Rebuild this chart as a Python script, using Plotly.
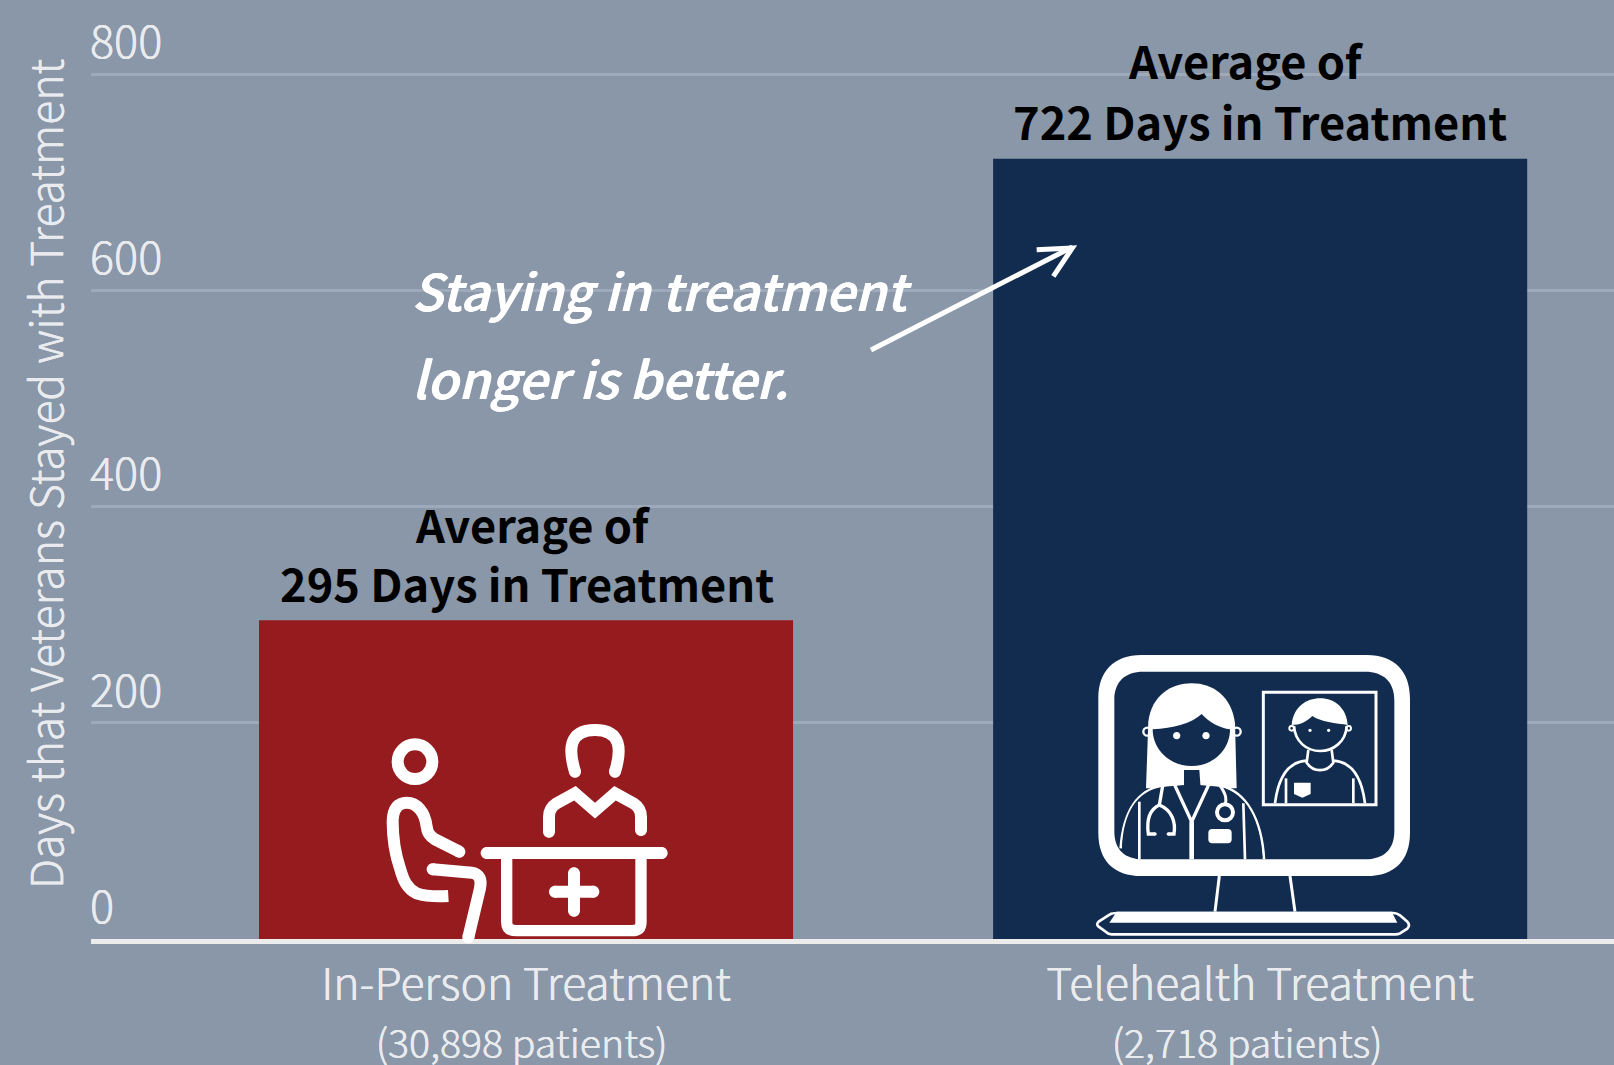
import re
import plotly.graph_objects as go

categories = ["In-Person Treatment", "Telehealth Treatment"]
patients = ["(30,898 patients)", "(2,718 patients)"]
patient_pad = ["&nbsp;", "&nbsp;&nbsp;&nbsp;"]
days = [295, 722]
bar_colors = ["#961b1e", "#122c4f"]
y_ticks = [0, 200, 400, 600, 800]
y_title = "Days that Veterans Stayed with Treatment"

W, H = 1614, 1065
L = 91
MB = 126
PW, PH = W - L, H - MB
FONT = "Noto Sans CJK SC, Source Sans Pro, Noto Sans, sans-serif"
LIGHT = "#e9ebee"
WHITE = "#ffffff"
NAVY = "#122c4f"
THIN_BOLD = "0.5px 0 0 #ffffff, -0.5px 0 0 #ffffff"
THIN_AXIS = "0.25px 0 0 #e9ebee, -0.25px 0 0 #e9ebee"

shapes = []


def conv(d, ox, oy):
    """zoomed-crop coordinates (3x) -> paper coordinates"""
    out, i = [], 0
    for tok in re.findall(r"[MLCQZ]|-?\d+\.?\d*", d):
        if tok.isalpha():
            out.append(tok)
        else:
            v = float(tok)
            if i % 2 == 0:
                out.append(f"{(ox + v / 3 - L) / PW:.5f}")
            else:
                out.append(f"{1 - (oy + v / 3) / PH:.5f}")
            i += 1
    return " ".join(out)


def circ(cx, cy, r):
    k = 0.5523 * r
    return (f"M{cx-r},{cy} C{cx-r},{cy-k} {cx-k},{cy-r} {cx},{cy-r} "
            f"C{cx+k},{cy-r} {cx+r},{cy-k} {cx+r},{cy} "
            f"C{cx+r},{cy+k} {cx+k},{cy+r} {cx},{cy+r} "
            f"C{cx-k},{cy+r} {cx-r},{cy+k} {cx-r},{cy} Z")


def fill(d, ox, oy, color=WHITE):
    shapes.append(dict(type="path", xref="paper", yref="paper", layer="above",
                       path=conv(d, ox, oy), fillcolor=color, line=dict(width=0)))


def stroke(d, ox, oy, w, color=WHITE, caps=True, fc=None):
    shapes.append(dict(type="path", xref="paper", yref="paper", layer="above",
                       path=conv(d, ox, oy), fillcolor=fc or "rgba(0,0,0,0)",
                       line=dict(color=color, width=w / 3)))
    if caps and "Z" not in d:
        nums = re.findall(r"-?\d+\.?\d*", d)
        for cx, cy in ((nums[0], nums[1]), (nums[-2], nums[-1])):
            fill(circ(float(cx), float(cy), w / 2), ox, oy, color)


# ---------- in-person icon ----------
o = (240, 680)
stroke(circ(525, 245, 52), *o, 36)
stroke("M625,648 C590,650 560,650 530,640 C500,625 490,600 480,565 C465,520 458,470 458,425 "
       "C458,385 475,368 500,368 C530,368 555,395 560,440 C562,460 570,470 585,478 L658,515", *o, 36, caps=False)
fill(circ(658, 515, 18), *o)
stroke("M578,568 L695,578 C720,582 725,600 720,625 L685,772", *o, 36)
stroke("M1005,275 C985,210 985,150 1065,150 C1145,150 1145,210 1125,275", *o, 36)
stroke("M927,455 L927,410 C927,390 935,380 950,370 L1005,340 L1065,392 L1125,340 L1180,370 "
       "C1195,380 1203,390 1203,410 L1203,450", *o, 36)
stroke("M740,519 L1265,519", *o, 36)
stroke("M800,530 L800,725 C800,745 810,752 830,752 L1175,752 C1195,752 1203,745 1203,725 L1203,530",
       *o, 34, caps=False)
stroke("M1002,580 L1002,692", *o, 36)
stroke("M945,635 L1060,635", *o, 36)

# ---------- telehealth icon ----------
o = (1080, 640)
stroke("M418,708 L405,815", *o, 9, caps=False)
stroke("M630,708 L645,815", *o, 9, caps=False)
fill("M185,45 L860,45 C945,45 990,95 990,175 L990,578 C990,660 945,708 860,708 L185,708 "
     "C100,708 55,660 55,578 L55,175 C55,95 100,45 185,45 Z "
     "M190,95 C135,95 103,125 103,180 L103,573 C103,630 135,658 190,658 L855,658 "
     "C910,658 943,630 943,573 L943,180 C943,125 910,95 855,95 Z", *o)
fill(circ(465, 70, 6), *o)
stroke("M497,70 L580,70", *o, 10)
stroke("M112,819 L940,819 C950,819 955,822 960,826 L982,845 C988,852 988,860 982,866 L960,880 "
       "C955,883 950,883 945,883 L95,883 C88,883 82,880 78,876 L56,860 C50,855 50,850 56,845 "
       "L90,823 C96,819 105,819 112,819 Z", *o, 8)
fill("M110,815 L935,815 L952,848 L88,848 Z", *o)

# doctor
fill("M198,445 L205,245 C215,165 275,130 335,130 C400,130 455,170 465,250 L470,445 Z", *o)
stroke(circ(202, 275, 12), *o, 7)
stroke(circ(470, 275, 12), *o, 7)
stroke("M122,625 C130,520 170,450 250,437 L312,432 L358,432 L420,437 C500,455 545,540 552,658",
       *o, 8, caps=False, fc=NAVY)
fill("M126,620 C130,520 170,450 250,441 L312,436 L358,436 L420,441 C500,459 541,540 548,654 L170,654 "
     "C145,645 135,635 126,620 Z", *o, NAVY)
fill("M218,268 C280,265 335,250 365,222 C385,245 420,265 450,268 C450,330 400,378 335,378 "
     "C270,378 218,330 218,268 Z", *o, NAVY)
fill("M312,390 L358,390 L362,445 L312,445 Z", *o, NAVY)
fill(circ(290, 287, 11), *o)
fill(circ(378, 287, 11), *o)
stroke("M178,485 L178,658", *o, 8, caps=False)
stroke("M490,490 L495,658", *o, 8, caps=False)
stroke("M285,437 L335,545 L385,437", *o, 10, caps=False)
stroke("M335,545 L335,658", *o, 14, caps=False)
stroke("M248,437 L238,495 C205,510 200,545 205,582 L225,582", *o, 10)
stroke("M238,495 C275,510 288,545 282,582 L265,582", *o, 10)
stroke("M420,437 C440,465 440,480 435,495", *o, 9, caps=False)
stroke(circ(435, 517, 24), *o, 12)
fill("M397,567 L443,567 C451,567 455,571 455,579 L455,598 C455,606 451,610 443,610 L397,610 "
     "C389,610 385,606 385,598 L385,579 C385,571 389,567 397,567 Z", *o)

# patient panel
stroke("M550,157 L888,157 L888,494 L550,494 Z", *o, 9)
fill("M635,255 C640,200 680,175 720,175 C765,175 800,205 803,255 C770,250 720,245 697,228 "
     "C680,245 660,255 635,255 Z", *o)
stroke("M642,258 C645,305 680,333 720,333 C760,333 798,305 800,258", *o, 8, caps=False)
stroke(circ(635, 265, 7), *o, 6)
stroke(circ(806, 265, 7), *o, 6)
fill(circ(690, 271, 5), *o)
fill(circ(746, 271, 5), *o)
stroke("M685,330 L680,368 C700,398 740,398 760,368 L755,330", *o, 8, caps=False)
stroke("M585,490 C595,410 625,365 680,362", *o, 8, caps=False)
stroke("M760,362 C815,365 845,410 855,490", *o, 8, caps=False)
stroke("M618,415 L618,490", *o, 8, caps=False)
stroke("M820,415 L820,490", *o, 8, caps=False)
fill("M642,428 L692,428 L692,462 L667,473 L642,462 Z", *o)

# ---------- annotation arrow ----------
o = (0, 0)
stroke("M2613,1050 L3217,741", *o, 15, caps=False)
stroke("M3110,749 L3217,744 L3160,829", *o, 15, caps=False)

fig = go.Figure(go.Bar(x=categories, y=days, marker=dict(color=bar_colors, line=dict(width=0)),
                       width=0.7275, showlegend=False))


def note(text, px, py, size, color="#000000", weight=700, italic=False, anchor="center", angle=0, shadow="none"):
    fig.add_annotation(xref="paper", yref="paper", x=(px - L) / PW, y=1 - py / PH,
                       text=text, showarrow=False, xanchor=anchor, yanchor="middle", textangle=angle,
                       font=dict(family=FONT, size=size, color=color, weight=weight, shadow=shadow,
                                 style="italic" if italic else "normal"))


note("Average of", 533, 523, 45.2)
note(f"{days[0]} Days in Treatment", 526.5, 582, 45.2)
note("Average of", 1245.5, 60, 45.2)
note(f"{days[1]} Days in Treatment", 1260, 121, 45.2)
note("Staying in treatment", 410, 289, 50.7, WHITE, 500, True, "left", shadow=THIN_BOLD)
note("longer is better.", 410, 377, 50.7, WHITE, 500, True, "left", shadow=THIN_BOLD)
note(y_title, 43, 474, 44.5, LIGHT, 300, angle=-90, shadow=THIN_AXIS)

fig.update_layout(
    width=W, height=H, autosize=False,
    margin=dict(l=L, r=0, t=0, b=MB, pad=0, autoexpand=False),
    paper_bgcolor="#8a97a9", plot_bgcolor="#8a97a9",
    font=dict(family=FONT, color=LIGHT),
    shapes=shapes,
    xaxis=dict(
        type="category", range=[-0.5926, 1.482], tickmode="array",
        tickvals=categories,
        ticktext=[f"{c}<br><span style='font-size:39.3px'>{p}{pad}</span>"
                  for c, p, pad in zip(categories, patients, patient_pad)],
        tickfont=dict(size=44.5, color=LIGHT, weight=300, shadow=THIN_AXIS), ticks="", showgrid=False,
        showline=True, linecolor="#ececec", linewidth=5, ticklabelstandoff=3,
    ),
    yaxis=dict(
        range=[0, 868.8], tickmode="array", tickvals=y_ticks,
        tickfont=dict(size=45, color=LIGHT, weight=300, shadow=THIN_AXIS), ticks="",
        ticklabelposition="inside", ticklabelshift=-32, ticklabelstandoff=-4,
        showgrid=True, gridcolor="#9eaaba", gridwidth=3, zeroline=False,
    ),
)

fig.write_html("out.html", config=dict(displayModeBar=False),
               post_script="document.body.style.margin='0';document.body.style.overflow='hidden';")
